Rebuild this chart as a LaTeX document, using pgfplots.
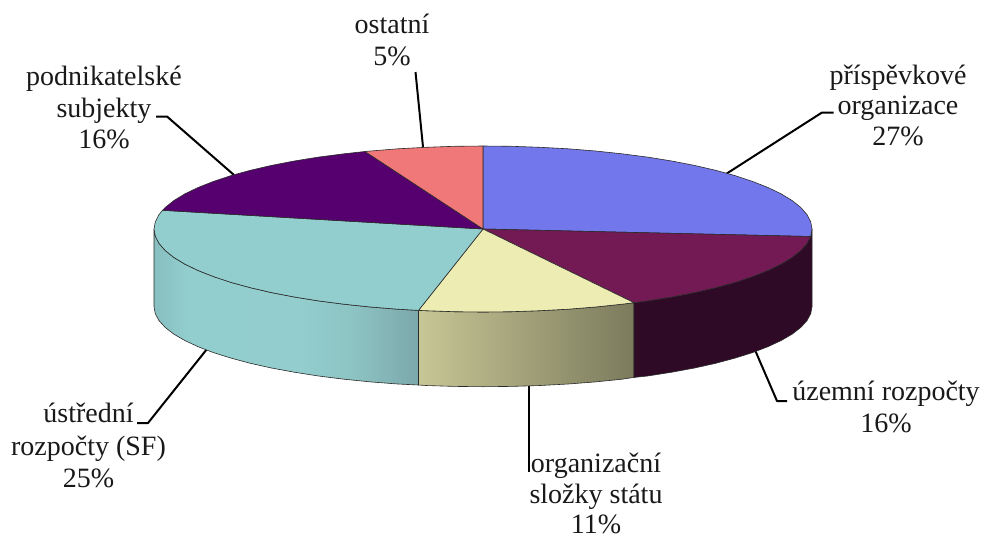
\documentclass[border=0pt]{standalone}
\usepackage{fontspec}
\setmainfont{Liberation Serif}
\usepackage{pgfplots}
\pgfplotsset{compat=1.18}
\definecolor{cBlue}{HTML}{7377EC}
\definecolor{cMaroon}{HTML}{731A55}
\definecolor{cMaroonSide}{HTML}{2F0A26}
\definecolor{cCream}{HTML}{EDECB2}
\definecolor{cTeal}{HTML}{93CECE}
\definecolor{cPurple}{HTML}{560070}
\definecolor{cSalmon}{HTML}{F07878}
\definecolor{cEdge}{HTML}{2A2A2A}
\pgfdeclarehorizontalshading{tealside}{100bp}{
  rgb(0bp)=(0.533,0.749,0.753);
  rgb(25bp)=(0.533,0.749,0.753);
  rgb(31.8bp)=(0.576,0.808,0.808);
  rgb(52.7bp)=(0.576,0.804,0.804);
  rgb(62.1bp)=(0.553,0.769,0.769);
  rgb(75bp)=(0.486,0.659,0.671);
  rgb(100bp)=(0.486,0.659,0.671)}
\begin{document}
\begin{tikzpicture}
\begin{axis}[
  width=981pt,height=536pt,scale only axis,
  xmin=0,xmax=981,ymin=0,ymax=536,y dir=reverse,
  hide axis,
  every axis plot/.append style={mark=none,line join=round},
]
% page extent
\addplot[draw=none] coordinates {(0,0)(981,536)};
% leader lines
\addplot[black,line width=2pt] coordinates {(156,116.5)(167,116.5)(234,175)};
\addplot[black,line width=2pt] coordinates {(415.5,72)(423,147)};
\addplot[black,line width=2pt] coordinates {(833.5,112.5)(822,112.5)(726,174)};
\addplot[black,line width=2pt] coordinates {(755,350)(777,401)(787,401)};
\addplot[black,line width=2pt] coordinates {(528.5,386)(528.5,471.5)};
\addplot[black,line width=2pt] coordinates {(207,349)(148,423)(137,423)};
% side: teal
\addplot[shading=tealside,draw=cEdge,line width=0.6pt] coordinates {
(154,229)(155.3,236.2)(159,243.4)(165.2,250.5)(173.8,257.4)(184.8,264.1)(198.1,270.5)(213.5,276.6)(231,282.4)(250.4,287.7)(271.5,292.6)(294.3,297)(318.5,300.9)(344,304.2)(370.5,307)(397.9,309.2)(418.5,310.4)
(418.5,385)(397.9,384)(370.5,381.9)(344,379.2)(318.5,376)(294.3,372.2)(271.5,368)(250.4,363.3)(231,358.1)(213.5,352.6)(198.1,346.7)(184.8,340.5)(173.8,334.1)(165.2,327.4)(159,320.6)(155.3,313.7)(154,306.7)(154,229)};
% side: cream
\addplot[left color=cCream!84!black,right color=cCream!52!black,draw=cEdge,line width=0.6pt] coordinates {
(418.5,310.4)(425.9,310.7)(454.3,311.7)(483,312)(511.7,311.7)(540.1,310.7)(568.1,309.2)(595.5,307)(622,304.2)(634,302.7)
(634,377.4)(622,379.2)(595.5,381.9)(568.1,384)(540.1,385.5)(511.7,386.4)(483,386.7)(454.3,386.4)(425.9,385.5)(418.5,385)(418.5,310.4)};
% side: maroon
\addplot[fill=cMaroonSide,draw=cEdge,line width=0.6pt] coordinates {
(634,302.7)(647.5,300.9)(671.7,297)(694.5,292.6)(715.6,287.7)(735,282.4)(752.5,276.6)(767.9,270.5)(781.2,264.1)(792.2,257.4)(800.8,250.5)(807,243.4)(810.7,236.5)(812,229)
(812,306.7)(810.7,313.7)(807,320.6)(800.8,327.4)(792.2,334.1)(781.2,340.5)(767.9,346.7)(752.5,352.6)(735,358.1)(715.6,363.3)(694.5,368)(671.7,372.2)(647.5,376)(634,377.4)(634,302.7)};
% top: blue
\addplot[fill=cBlue,draw=cEdge,line width=0.6pt] coordinates {
(483,229)(483,146)(511.7,146.3)(540.1,147.3)(568.1,148.8)(595.5,151)(622,153.8)(647.5,157.1)(671.7,161)(694.5,165.4)(715.6,170.3)(735,175.6)(752.5,181.4)(767.9,187.5)(781.2,193.9)(792.2,200.6)(800.8,207.5)(807,214.6)(810.7,221.8)(812,229)(810.7,236.5)(483,229)};
% top: maroon
\addplot[fill=cMaroon,draw=cEdge,line width=0.6pt] coordinates {
(483,229)(810.7,236.5)(807,243.4)(800.8,250.5)(792.2,257.4)(781.2,264.1)(767.9,270.5)(752.5,276.6)(735,282.4)(715.6,287.7)(694.5,292.6)(671.7,297)(647.5,300.9)(634,302.7)(483,229)};
% top: cream
\addplot[fill=cCream,draw=cEdge,line width=0.6pt] coordinates {
(483,229)(634,302.7)(622,304.2)(595.5,307)(568.1,309.2)(540.1,310.7)(511.7,311.7)(483,312)(454.3,311.7)(425.9,310.7)(418.5,310.4)(483,229)};
% top: teal
\addplot[fill=cTeal,draw=cEdge,line width=0.6pt] coordinates {
(483,229)(418.5,310.4)(397.9,309.2)(370.5,307)(344,304.2)(318.5,300.9)(294.3,297)(271.5,292.6)(250.4,287.7)(231,282.4)(213.5,276.6)(198.1,270.5)(184.8,264.1)(173.8,257.4)(165.2,250.5)(159,243.4)(155.3,236.2)(154,229)(155.3,221.8)(159,214.6)(162.5,210.3)(483,229)};
% top: purple
\addplot[fill=cPurple,draw=cEdge,line width=0.6pt] coordinates {
(483,229)(162.5,210.3)(165.2,207.5)(173.8,200.6)(184.8,193.9)(198.1,187.5)(213.5,181.4)(231,175.6)(250.4,170.3)(271.5,165.4)(294.3,161)(318.5,157.1)(344,153.8)(365,151.5)(483,229)};
% top: salmon
\addplot[fill=cSalmon,draw=cEdge,line width=0.6pt] coordinates {
(483,229)(365,151.5)(370.5,151)(397.9,148.8)(425.9,147.3)(454.3,146.3)(483,146)(483,229)};
% labels
\tikzset{lb/.style={anchor=base,inner sep=0pt,outer sep=0pt,font=\fontsize{28}{32}\selectfont,text=black!90}}
\node[lb] at (axis cs:392,33) {ostatní};
\node[lb] at (axis cs:392,65) {5\%};
\node[lb] at (axis cs:104,85) {podnikatelské};
\node[lb] at (axis cs:104,117) {subjekty};
\node[lb] at (axis cs:104,148) {16\%};
\node[lb] at (axis cs:898,84) {příspěvkové};
\node[lb] at (axis cs:898,114) {organizace};
\node[lb] at (axis cs:898,145) {27\%};
\node[lb] at (axis cs:886,400) {územní rozpočty};
\node[lb] at (axis cs:886,432) {16\%};
\node[lb] at (axis cs:596,472) {organizační};
\node[lb] at (axis cs:596,503) {složky státu};
\node[lb] at (axis cs:596,533.5) {11\%};
\node[lb] at (axis cs:88.5,422) {ústřední};
\node[lb] at (axis cs:88.5,455) {rozpočty (SF)};
\node[lb] at (axis cs:88.5,487) {25\%};
\end{axis}
\end{tikzpicture}
\end{document}
